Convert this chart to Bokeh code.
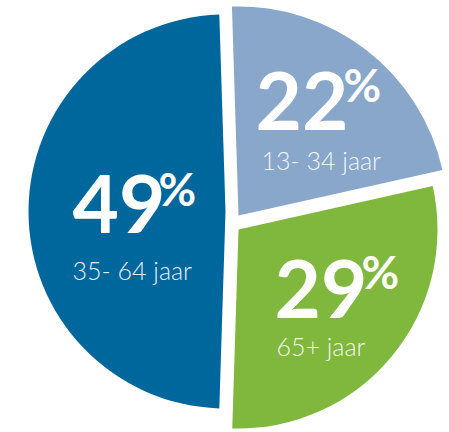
import numpy as np
from bokeh.plotting import figure
from bokeh.models import ColumnDataSource, Range1d
from bokeh.core.properties import value
from bokeh.embed import file_html
from bokeh.resources import INLINE

# ---- data ----
groups = ["13- 34 jaar", "65+ jaar", "35- 64 jaar"]
shares = [22, 29, 49]
colors = ["#88A7CA", "#80B83E", "#00679C"]

# ---- layout (page pixel space, y measured downward) ----
center_x = [238, 238, 225]
center_y = [215, 229, 211]
radii = [209, 199, 197]
START_DEG = 91.8  # first slice starts here (counter-clockwise from 3 o'clock)
num_x = [255, 274, 72]
num_base = [129, 317, 232]
pct_x = [343, 361, 158]
pct_base = [101, 288, 205]
sub_x = [261, 276, 72]
sub_base = [168, 354, 278]
NUM_SIZE, PCT_SIZE, SUB_SIZE = 80, 46, 25
SHIFT = 0.36  # renderer baseline correction (em)

frac = np.array(shares, dtype=float) / sum(shares)
start0 = np.deg2rad(START_DEG)
ends = start0 - 2 * np.pi * np.cumsum(frac)
starts = np.concatenate([[start0], ends[:-1]])

src = ColumnDataSource(dict(
    cx=center_x, cy=[-v for v in center_y], r=radii,
    start=starts, end=ends, color=colors,
    nx=num_x, ny=[-(v - SHIFT * NUM_SIZE) for v in num_base], num=[str(s) for s in shares],
    px=pct_x, py=[-(v - SHIFT * PCT_SIZE) for v in pct_base], pct=["%"] * len(shares),
    sx=sub_x, sy=[-(v - SHIFT * SUB_SIZE) for v in sub_base], sub=groups,
))

p = figure(width=449, height=432, output_backend="svg", toolbar_location=None,
           x_range=Range1d(0, 449), y_range=Range1d(-432, 0),
           min_border=0, outline_line_color=None)
p.axis.visible = False
p.grid.visible = False
p.background_fill_color = "white"
p.border_fill_color = "white"

p.wedge(x="cx", y="cy", radius="r", start_angle="start", end_angle="end",
        direction="clock", fill_color="color", line_color=None, source=src)

p.text(x="nx", y="ny", text="num", source=src, text_font=value("Lato"),
       text_font_style="bold", text_font_size=f"{NUM_SIZE}px", text_color="white",
       text_align="left", text_baseline="alphabetic")
p.text(x="px", y="py", text="pct", source=src, text_font=value("Lato"),
       text_font_style="bold", text_font_size=f"{PCT_SIZE}px", text_color="white",
       text_align="left", text_baseline="alphabetic")
p.text(x="sx", y="sy", text="sub", source=src, text_font=value("Lato Light"),
       text_font_size=f"{SUB_SIZE}px", text_color="white", text_alpha=0.92,
       text_align="left", text_baseline="alphabetic")

open("out.html", "w").write(file_html(p, INLINE))
